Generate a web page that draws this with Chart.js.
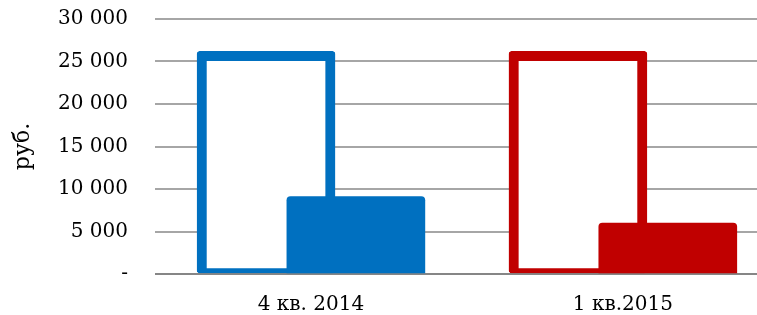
<!DOCTYPE html>
<html lang="ru">
<head>
    <meta charset="UTF-8">
    <title>руб.</title>
    <script src="https://cdn.jsdelivr.net/npm/chart.js"></script>
    <style>
        body {
            margin: 0;
            padding: 0;
            background: #ffffff;
        }
        #wrap {
            position: relative;
            width: 757px;
            height: 315px;
        }
    </style>
</head>
<body>
    <div id="wrap"><canvas id="rubChart"></canvas></div>

    <script>
        const categories = ['4 кв. 2014', '1 кв.2015'];
        const outlineValues = [26200, 26200];
        const filledValues = [9100, 6000];
        const yTicks = [0, 5000, 10000, 15000, 20000, 25000, 30000];
        const colors = ['#0070C0', '#C00000'];

        const serif = "'DejaVu Serif', Georgia, serif";

        function fmt(v) {
            if (v === 0) return '-';
            return String(v).replace(/\B(?=(\d{3})+(?!\d))/g, ' ');
        }

        const config = {
            type: 'bar',
            data: {
                datasets: [{
                    label: 'outline',
                    data: categories.map((c, i) => ({ x: i - 0.144, y: outlineValues[i] })),
                    backgroundColor: '#ffffff',
                    borderColor: colors,
                    borderWidth: { top: 10, left: 10, right: 10, bottom: 5 },
                    borderSkipped: false,
                    borderRadius: 3,
                    barThickness: 138,
                    grouped: false,
                    order: 2
                }, {
                    label: 'filled',
                    data: categories.map((c, i) => ({ x: i + 0.144, y: filledValues[i] })),
                    backgroundColor: colors,
                    borderWidth: 0,
                    borderRadius: { topLeft: 4, topRight: 4 },
                    borderSkipped: false,
                    barThickness: 138,
                    grouped: false,
                    order: 1
                }]
            },
            options: {
                responsive: true,
                maintainAspectRatio: false,
                animation: false,
                layout: {
                    padding: { top: 19, right: 0, bottom: 0, left: 0 }
                },
                plugins: {
                    legend: { display: false },
                    tooltip: { enabled: false }
                },
                scales: {
                    x: {
                        type: 'linear',
                        min: -0.5,
                        max: 1.43,
                        offset: false,
                        grid: { display: false },
                        border: { display: false },
                        afterBuildTicks: axis => {
                            axis.ticks = categories.map((c, i) => ({ value: i }));
                        },
                        afterFit: axis => { axis.height = 41; },
                        ticks: {
                            padding: 11,
                            color: '#000000',
                            font: { family: serif, size: 20 },
                            maxRotation: 0,
                            callback: v => categories[v]
                        }
                    },
                    y: {
                        min: 0,
                        max: 30000,
                        afterBuildTicks: axis => {
                            axis.ticks = yTicks.map(v => ({ value: v }));
                        },
                        afterFit: axis => { axis.width = 155; },
                        grid: {
                            drawTicks: true,
                            tickLength: 27,
                            tickColor: 'rgba(0,0,0,0)',
                            lineWidth: 2,
                            color: c => c.tick && c.tick.value === 0 ? '#868686' : '#a6a6a6'
                        },
                        border: { display: false },
                        title: {
                            display: true,
                            text: 'руб.',
                            color: '#000000',
                            font: { family: serif, size: 22 },
                            padding: { top: 10, bottom: 0 }
                        },
                        ticks: {
                            padding: 0,
                            color: '#000000',
                            font: { family: serif, size: 20 },
                            callback: v => fmt(v)
                        }
                    }
                }
            }
        };

        const ctx = document.getElementById('rubChart').getContext('2d');
        const chart = new Chart(ctx, config);
    </script>
</body>
</html>
